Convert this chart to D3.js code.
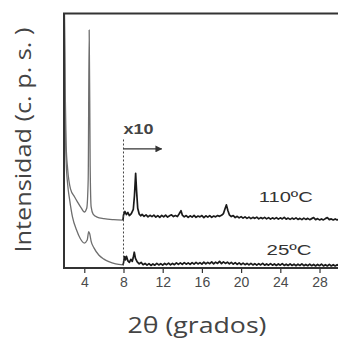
<!DOCTYPE html>
<html><head><meta charset="utf-8">
<script src="https://cdn.jsdelivr.net/npm/d3@7/dist/d3.min.js"></script>
<style>html,body{margin:0;padding:0;background:#fff;overflow:hidden}</style>
</head><body>
<svg id="chart" width="338" height="344"></svg>
<script>
// ---- data ----
const xTicks = [4, 8, 12, 16, 20, 24, 28];
const xDomain = [1.93, 30.09];
const yDomain = [0, 100];
const scaleStart = 8; // x10 from here

const low110 = [[1.95,110],[2.05,70],[2.15,48],[2.3,39],[2.6,31],[3.0,28],[3.3,26],[3.7,23.5],[4.0,22],[4.25,23.5],[4.4,35],[4.5,93.5],[4.6,40],[4.7,24],[4.9,21.2],[5.3,20],[6.0,19.4],[7.0,19.0],[7.95,18.8]];
const high110 = [[7.95,18.8],[8.0,20.8],[8.15,22.2],[8.3,21.0],[8.45,21.8],[8.6,20.6],[8.8,21.4],[9.0,23.0],[9.12,28.5],[9.24,37.2],[9.34,30.0],[9.45,23.5],[9.6,21.2],[9.75,20.5],[9.9,21.1],[10.1,20.3],[10.3,20.9],[10.5,20.1],[10.7,20.7],[10.9,20.2],[11.1,20.8],[11.3,20.0],[11.5,20.6],[11.7,19.9],[11.9,20.7],[12.1,20.1],[12.3,20.8],[12.5,20.0],[12.7,20.5],[12.9,20.9],[13.1,20.2],[13.3,20.6],[13.5,20.2],[13.7,21.4],[13.87,22.5],[14.0,20.8],[14.2,20.1],[14.4,20.6],[14.6,19.9],[14.8,20.5],[15.0,20.0],[15.2,20.7],[15.4,19.9],[15.6,20.4],[15.8,20.1],[16.0,20.6],[16.2,19.8],[16.4,20.5],[16.6,20.0],[16.8,20.6],[17.0,19.9],[17.2,20.4],[17.4,20.1],[17.6,20.6],[17.8,20.3],[18.0,20.7],[18.2,21.4],[18.35,23.2],[18.5,24.8],[18.65,22.6],[18.8,20.9],[19.0,20.2],[19.2,20.6],[19.4,19.8],[19.6,20.3],[19.8,19.7],[20.0,20.2],[20.2,19.6],[20.4,20.1],[20.6,19.5],[20.8,20.0],[21.0,19.4],[21.2,19.9],[21.4,19.5],[21.6,20.0],[21.8,19.3],[22.0,19.8],[22.2,19.4],[22.4,19.9],[22.6,19.3],[22.8,19.8],[23.0,19.2],[23.2,19.7],[23.4,19.3],[23.6,19.8],[23.8,19.2],[24.0,19.7],[24.2,19.3],[24.4,19.9],[24.6,19.2],[24.8,19.6],[25.0,19.1],[25.2,19.6],[25.4,19.2],[25.6,19.7],[25.8,19.1],[26.0,19.5],[26.2,19.0],[26.4,19.6],[26.6,19.1],[26.8,19.5],[27.0,19.0],[27.2,19.4],[27.4,19.8],[27.6,19.0],[27.8,19.4],[28.0,18.9],[28.2,19.3],[28.4,18.9],[28.6,19.4],[28.8,19.8],[29.0,19.0],[29.2,19.3],[29.4,18.9],[29.6,19.3],[29.8,18.9],[30.0,19.2],[30.2,18.9]];

const low25 = [[1.95,110],[2.05,60],[2.15,42],[2.3,33],[2.5,27],[2.8,20],[3.2,15],[3.6,11.5],[4.0,9.8],[4.3,11],[4.45,14.3],[4.55,13.5],[4.7,10.5],[5.0,7.8],[5.5,5],[6.0,3.5],[6.5,2.5],[7.2,1.6],[7.95,1.2]];
const high25 = [[7.95,1.2],[8.0,2.0],[8.1,4.5],[8.2,3.2],[8.3,4.6],[8.45,2.8],[8.6,2.2],[8.75,3.4],[8.9,2.6],[9.0,4.2],[9.1,6.2],[9.22,3.8],[9.4,2.4],[9.6,1.6],[9.8,2.2],[10.0,1.3],[10.2,1.8],[10.4,1.1],[10.6,1.7],[10.8,1.0],[11.0,1.6],[11.2,1.1],[11.4,1.8],[11.6,1.2],[11.8,1.7],[12.0,1.1],[12.2,1.8],[12.4,1.3],[12.6,1.9],[12.8,1.2],[13.0,1.8],[13.2,1.3],[13.4,2.0],[13.6,1.4],[13.8,2.0],[14.0,1.4],[14.2,2.1],[14.4,1.5],[14.6,2.0],[14.8,1.4],[15.0,2.1],[15.2,1.5],[15.4,2.2],[15.6,1.6],[15.8,2.1],[16.0,1.5],[16.2,2.3],[16.4,1.6],[16.6,2.2],[16.8,1.7],[17.0,2.4],[17.2,1.6],[17.4,2.3],[17.6,1.8],[17.8,2.6],[18.0,1.7],[18.2,2.4],[18.4,1.8],[18.6,2.3],[18.8,1.6],[19.0,2.2],[19.2,1.5],[19.4,2.1],[19.6,1.4],[19.8,2.0],[20.0,1.3],[20.2,1.9],[20.4,1.3],[20.6,1.8],[20.8,1.2],[21.0,1.8],[21.2,1.2],[21.4,1.7],[21.6,1.1],[21.8,1.7],[22.0,1.2],[22.2,1.8],[22.4,1.1],[22.6,1.6],[22.8,1.1],[23.0,1.7],[23.2,1.1],[23.4,1.6],[23.6,1.0],[23.8,1.6],[24.0,1.1],[24.2,1.7],[24.4,1.0],[24.6,1.5],[24.8,1.0],[25.0,1.6],[25.2,1.0],[25.4,1.5],[25.6,0.9],[25.8,1.5],[26.0,1.0],[26.2,1.6],[26.4,0.9],[26.6,1.4],[26.8,0.9],[27.0,1.5],[27.2,0.9],[27.4,1.4],[27.6,0.8],[27.8,1.4],[28.0,0.9],[28.2,1.5],[28.4,0.8],[28.6,1.3],[28.8,0.8],[29.0,1.4],[29.2,0.8],[29.4,1.3],[29.6,0.8],[29.8,1.3],[30.0,0.8],[30.2,1.2]];

const seriesLabels = ["110ºC", "25ºC"];
const labelPos = [[21.8, 26], [22.6, 5]];
const xTitle = "2θ (grados)";
const yTitle = "Intensidad (c. p. s. )";

// ---- layout ----
const svg = d3.select("#chart");
const L = 64, T = 13.5, R = 340, B = 268;
const x = d3.scaleLinear().domain(xDomain).range([L, R]);
const y = d3.scaleLinear().domain(yDomain).range([B, T]);

svg.append("defs").append("clipPath").attr("id","clip")
  .append("rect").attr("x",L).attr("y",T).attr("width",R-L).attr("height",B-T);
svg.select("defs").append("marker").attr("id","arrow")
  .attr("viewBox","0 0 10 10").attr("refX",9).attr("refY",5)
  .attr("markerWidth",7).attr("markerHeight",7).attr("markerUnits","userSpaceOnUse").attr("orient","auto")
  .append("path").attr("d","M0,0L10,5L0,10Z").attr("fill","#333");

const line = d3.line().x(d=>x(d[0])).y(d=>y(d[1])).curve(d3.curveMonotoneX);
const lineLin = d3.line().x(d=>x(d[0])).y(d=>y(d[1]));
const g = svg.append("g").attr("clip-path","url(#clip)");

[low110, low25].forEach(s => g.append("path").attr("d", line(s))
  .attr("fill","none").attr("stroke","#6e6e6e").attr("stroke-width",1.3));
[high110, high25].forEach(s => g.append("path").attr("d", lineLin(s))
  .attr("fill","none").attr("stroke","#1a1a1a").attr("stroke-width",1.7).attr("stroke-linejoin","round"));

// dashed marker line at x10 start
svg.append("line").attr("x1",x(scaleStart)).attr("x2",x(scaleStart))
  .attr("y1",y(50.5)).attr("y2",B)
  .attr("stroke","#444").attr("stroke-width",1).attr("stroke-dasharray","2,2");
// arrow
svg.append("line").attr("x1",x(scaleStart)).attr("x2",x(11.9))
  .attr("y1",y(46.8)).attr("y2",y(46.8))
  .attr("stroke","#333").attr("stroke-width",1.2).attr("marker-end","url(#arrow)");
svg.append("text").attr("x",x(scaleStart)).attr("y",y(52.5))
  .attr("font-family","Liberation Sans, Arial, sans-serif").attr("font-size",14).attr("font-weight","bold")
  .attr("fill","#444").attr("textLength",30).attr("lengthAdjust","spacingAndGlyphs").text("x10");

// series labels
seriesLabels.forEach((t,i)=>{
  svg.append("text").attr("x",x(labelPos[i][0])).attr("y",y(labelPos[i][1]))
    .attr("text-anchor","start")
    .attr("font-family","Liberation Sans, Arial, sans-serif").attr("font-size",15)
    .attr("fill","#333").attr("textLength", i===0?54:45).attr("lengthAdjust","spacingAndGlyphs").text(t);
});

// frame
svg.append("rect").attr("x",L).attr("y",T).attr("width",R-L).attr("height",B-T)
  .attr("fill","none").attr("stroke","#333").attr("stroke-width",2);

// x axis ticks
const ax = svg.append("g").attr("transform",`translate(0,${B})`)
  .call(d3.axisBottom(x).tickValues(xTicks).tickSize(5).tickSizeOuter(0).tickPadding(4));
ax.select(".domain").remove();
ax.selectAll(".tick line").attr("stroke","#333").attr("stroke-width",1.2);
ax.selectAll(".tick text").attr("font-family","Liberation Sans, Arial, sans-serif")
  .attr("font-size",14).attr("fill","#4a4a4a");

// titles
svg.append("text").attr("x",197).attr("y",333).attr("text-anchor","middle")
  .attr("font-family","Open Sans, sans-serif").attr("font-size",21).attr("fill","#444")
  .attr("textLength",139).attr("lengthAdjust","spacingAndGlyphs").text(xTitle);
svg.append("text").attr("transform","translate(31,140) rotate(-90)").attr("text-anchor","middle")
  .attr("font-family","Open Sans, sans-serif").attr("font-size",22).attr("fill","#444")
  .attr("textLength",225).attr("lengthAdjust","spacingAndGlyphs").text(yTitle);
</script>
</body></html>
